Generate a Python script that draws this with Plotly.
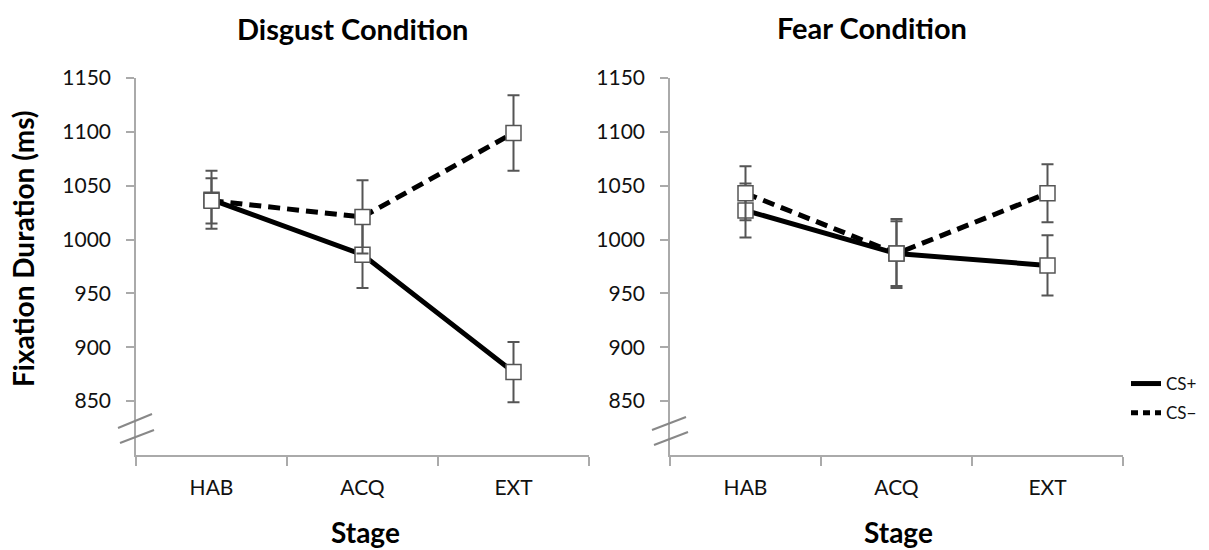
import plotly.graph_objects as go

stages = ["HAB", "ACQ", "EXT"]
y_ticks = [850, 900, 950, 1000, 1050, 1100, 1150]

disgust_cs_plus = [1037, 986, 877]
disgust_cs_plus_err = [27, 31, 28]
disgust_cs_minus = [1036, 1021, 1099]
disgust_cs_minus_err = [21, 34, 35]

fear_cs_plus = [1027, 987, 976]
fear_cs_plus_err = [25, 32, 28]
fear_cs_minus = [1043, 987, 1043]
fear_cs_minus_err = [25, 30, 27]

W, H = 1209, 550
T, B = 78, 95
PLOT_BOTTOM = H - B
PLOT_H = H - T - B

FONT = "Lato"
ERR_COLOR = "#555555"

def px_x(p):
    return p / W

def px_y(p):
    return (PLOT_BOTTOM - p) / PLOT_H

fig = go.Figure()

panels = [
    ("x", "y", disgust_cs_plus, disgust_cs_plus_err, disgust_cs_minus, disgust_cs_minus_err),
    ("x2", "y2", fear_cs_plus, fear_cs_plus_err, fear_cs_minus, fear_cs_minus_err),
]

# lines first
for xa, ya, p, pe, m, me in panels:
    fig.add_trace(go.Scatter(x=stages, y=p, xaxis=xa, yaxis=ya, mode="lines",
                             line=dict(color="black", width=5), showlegend=False, hoverinfo="skip"))
    fig.add_trace(go.Scatter(x=stages, y=m, xaxis=xa, yaxis=ya, mode="lines",
                             line=dict(color="black", width=5, dash="12px,7px"), showlegend=False,
                             hoverinfo="skip"))
# markers with error bars on top
for xa, ya, p, pe, m, me in panels:
    for vals, errs, name in ((p, pe, "CS+"), (m, me, "CS−")):
        fig.add_trace(go.Scatter(
            x=stages, y=vals, xaxis=xa, yaxis=ya, mode="markers", name=name, showlegend=False,
            marker=dict(symbol="square", size=15, color="white",
                        line=dict(color="#555555", width=1.5)),
            error_y=dict(type="data", array=errs, visible=True, color=ERR_COLOR,
                         thickness=2, width=6),
        ))

# legend-only traces
fig.add_trace(go.Scatter(x=[None], y=[None], mode="lines", name="CS+", legendgroup="a",
                         line=dict(color="black", width=5)))
fig.add_trace(go.Scatter(x=[None], y=[None], mode="lines", name="CS−", legendgroup="b",
                         line=dict(color="black", width=5, dash="7px,5px")))

xaxis_common = dict(
    type="category", range=[-0.5, 2.5], tickson="boundaries", ticks="outside", ticklen=9,
    tickcolor="#aaaaaa", tickwidth=1.5, showline=True, linecolor="#aaaaaa", linewidth=1.5,
    showgrid=False, zeroline=False, tickfont=dict(family=FONT, size=21, color="#111111"),
    ticklabelstandoff=13, fixedrange=True,
)
yaxis_common = dict(
    range=[800, 1150], tickvals=y_ticks, ticktext=[str(v) for v in y_ticks],
    ticks="outside", ticklen=8, tickcolor="#aaaaaa", tickwidth=1.5,
    showline=True, linecolor="#aaaaaa", linewidth=1.5, showgrid=False, zeroline=False,
    tickfont=dict(family=FONT, size=21, color="#111111"), ticklabelstandoff=11,
    domain=[0, 1],
)

fig.update_layout(
    width=W, height=H,
    margin=dict(l=0, r=0, t=T, b=B, autoexpand=False),
    paper_bgcolor="white", plot_bgcolor="white",
    xaxis=dict(domain=[px_x(136), px_x(589)], anchor="y", **xaxis_common),
    xaxis2=dict(domain=[px_x(670), px_x(1123)], anchor="y2", **xaxis_common),
    yaxis=dict(anchor="x", **yaxis_common),
    yaxis2=dict(anchor="x2", **yaxis_common),
    legend=dict(x=px_x(1126), y=px_y(366), xanchor="left", yanchor="top",
                font=dict(family=FONT, size=17, color="#111111"), tracegroupgap=4,
                bgcolor="rgba(0,0,0,0)", itemwidth=30),
    showlegend=True,
    font=dict(family=FONT),
)

annotations = [
    dict(text="<b>Disgust Condition</b>", x=px_x(352), y=px_y(28), font=dict(size=29)),
    dict(text="<b>Fear Condition</b>", x=px_x(872), y=px_y(27), font=dict(size=29)),
    dict(text="<b>Stage</b>", x=px_x(365), y=px_y(532), font=dict(size=28)),
    dict(text="<b>Stage</b>", x=px_x(898), y=px_y(532), font=dict(size=28)),
    dict(text="<b>Fixation Duration (ms)</b>", x=px_x(23), y=px_y(249), textangle=-90,
         font=dict(size=28)),
]
for a in annotations:
    a.update(xref="paper", yref="paper", showarrow=False, xanchor="center", yanchor="middle")
    a["font"].update(family=FONT, color="black")
fig.update_layout(annotations=annotations)

# axis break marks
breaks = [
    ((118, 428), (152, 414)), ((120, 443), (154, 430)),
    ((652, 430), (686, 417)), ((654, 445), (688, 432)),
]
for (x0, y0), (x1, y1) in breaks:
    fig.add_shape(type="line", xref="paper", yref="paper",
                  x0=px_x(x0), y0=px_y(y0), x1=px_x(x1), y1=px_y(y1),
                  line=dict(color="#888888", width=2))

fig.write_html("out.html")
